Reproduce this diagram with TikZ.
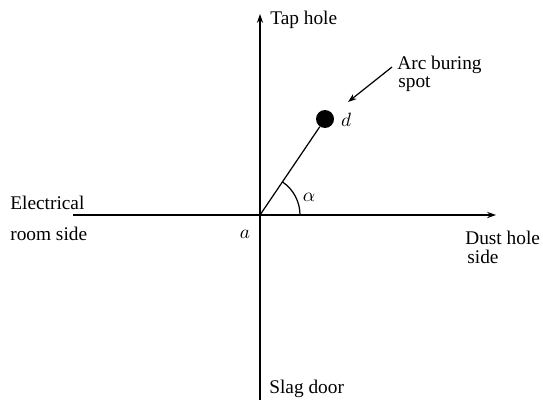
\documentclass[tikz,border=0pt]{standalone}
\usepackage{fontspec}
\setmainfont{Liberation Serif}
\usepackage{tikz}
\usetikzlibrary{arrows.meta, positioning, calc}

\begin{document}
\begin{tikzpicture}[
  x=0.02cm, y=-0.02cm,
  font=\fontsize{11}{13}\selectfont,
  axis/.style={-{Stealth[length=5pt, width=3.5pt]}, line width=0.8pt},
  arr/.style={-{Stealth[length=5pt, width=3.5pt]}, line width=0.7pt},
  lbl/.style={inner sep=0pt, anchor=west},
  spot/.style={circle, fill=black, minimum size=0.36cm, inner sep=0pt}
]
\useasboundingbox (0,0) rectangle (543,402);

% Axes
\coordinate (a) at (260,215);
\coordinate (top) at (260,14);
\coordinate (bot) at (260,400);
\coordinate (lft) at (73,215);
\coordinate (rgt) at (496,215);
\draw[axis] (bot) -- (top);
\draw[axis] (lft) -- (rgt);

% Arc spot and angle
\node[spot] (d) at (325,119) {};
\draw[line width=0.7pt] (a) -- (d);
\draw[line width=0.7pt] ($(a)+(40,0)$) arc[start angle=0, end angle=56, radius=0.8cm];

% Labels
\node[lbl] (tap) at (270,20) {Tap hole};
\node[lbl] (slag) at (269,389) {Slag door};
\node[lbl] (elec) at (10,203) {Electrical};
\node[lbl] (room) at (10,234) {room side};
\node[lbl] (dust) at (465,238) {Dust hole};
\node[lbl] (dside) at (467,257) {side};
\node[lbl] (arcl) at (397,65) {Arc buring};
\node[lbl] (spotl) at (398,84) {spot};
\node (alab) at (309,197) {$\alpha$};
\node (alab2) at (245,234) {$a$};
\node (dlab) at (346,120) {$d$};

% Pointer
\coordinate (tail) at (392,67);
\coordinate (tip) at (348,102);
\draw[arr] (tail) -- (tip);

\end{tikzpicture}
\end{document}
